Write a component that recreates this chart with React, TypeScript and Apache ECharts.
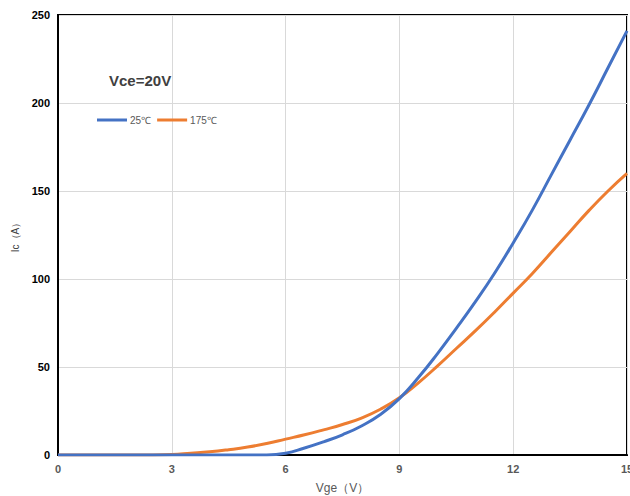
import React, { useEffect, useRef } from "react";
import * as echarts from "echarts";

const vge = [0, 1, 2, 3, 3.5, 4, 4.5, 5, 5.5, 6, 6.5, 7, 7.5, 8, 8.5, 9, 9.5, 10, 10.5, 11, 11.5, 12, 12.5, 13, 13.5, 14, 14.5, 15];
const ic25 = [0, 0, 0, 0, 0, 0, 0, 0, 0, 1, 4, 7.5, 11.5, 16.5, 23, 32, 44, 57.5, 72, 87, 103, 120.5, 139, 159, 179, 199, 220, 241];
const ic175 = [0, 0, 0, 0.3, 1, 1.8, 3, 4.5, 6.5, 9, 11.5, 14.3, 17.3, 21, 26, 32.5, 41, 50.5, 60.5, 70.5, 81, 92, 103, 115, 127, 139, 150, 160];
const seriesNames = ["25℃", "175℃"];
const xTicks = [0, 3, 6, 9, 12, 15];
const yTicks = [0, 50, 100, 150, 200, 250];

export default function App() {
  const ref = useRef<HTMLDivElement>(null);
  useEffect(() => {
    if (!ref.current) return;
    const chart = echarts.init(ref.current, null, { renderer: "svg" });
    chart.setOption({
      animation: false,
      backgroundColor: "#fff",
      grid: {
        left: 58,
        right: 3,
        top: 15,
        bottom: 41,
        show: true,
        borderColor: "#000",
        borderWidth: 2,
        outerBoundsMode: "none",
        containLabel: false,
      },
      title: {
        text: "Vce=20V",
        left: 104,
        top: 68,
        textStyle: { fontSize: 15, fontWeight: "bold", color: "#404040", fontFamily: "Liberation Sans" },
      },
      legend: {
        left: 92,
        top: 110,
        icon: "rect",
        itemWidth: 30,
        itemHeight: 3,
        itemGap: 6,
        textStyle: { fontSize: 10, color: "#595959", padding: [0, 0, 0, -2], fontFamily: "Liberation Sans" },
        data: seriesNames,
      },
      xAxis: {
        type: "value",
        min: xTicks[0],
        max: xTicks[xTicks.length - 1],
        interval: 3,
        name: "Vge（V）",
        nameLocation: "middle",
        nameGap: 27,
        nameTextStyle: { fontSize: 12, color: "#595959", fontFamily: "Liberation Sans" },
        axisLine: { show: true, lineStyle: { color: "#000", width: 2 } },
        axisTick: { show: false },
        axisLabel: { fontSize: 11, fontWeight: "bold", color: "#595959", margin: 8, fontFamily: "Liberation Sans" },
        splitLine: { show: true, lineStyle: { color: "#d9d9d9", width: 1 } },
      },
      yAxis: {
        type: "value",
        min: yTicks[0],
        max: yTicks[yTicks.length - 1],
        interval: 50,
        name: "Ic（A）",
        nameLocation: "middle",
        nameGap: 38,
        nameRotate: 90,
        nameTextStyle: { fontSize: 10, color: "#404040", fontFamily: "Liberation Sans" },
        axisLine: { show: true, lineStyle: { color: "#000", width: 2 } },
        axisTick: { show: false },
        axisLabel: { fontSize: 11, fontWeight: "bold", color: "#000", margin: 8, fontFamily: "Liberation Sans" },
        splitLine: { show: true, lineStyle: { color: "#d9d9d9", width: 1 } },
      },
      series: [
        {
          name: seriesNames[0],
          type: "line",
          smooth: 0.5,
          showSymbol: false,
          symbol: "none",
          data: vge.map((x, i) => [x, ic25[i]]),
          lineStyle: { color: "#4472C4", width: 3 },
          itemStyle: { color: "#4472C4" },
          z: 3,
        },
        {
          name: seriesNames[1],
          type: "line",
          smooth: 0.5,
          showSymbol: false,
          symbol: "none",
          data: vge.map((x, i) => [x, ic175[i]]),
          lineStyle: { color: "#ED7D31", width: 3 },
          itemStyle: { color: "#ED7D31" },
          z: 2,
        },
      ],
    });
    return () => chart.dispose();
  }, []);
  return (
    <div
      ref={ref}
      style={{ position: "fixed", left: 0, top: 0, width: 630, height: 496, background: "#fff" }}
    />
  );
}
